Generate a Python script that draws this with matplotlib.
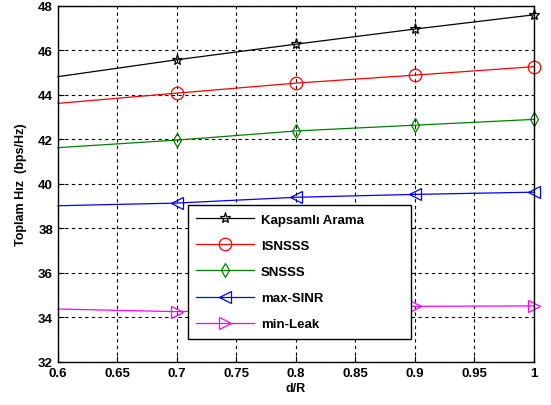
import numpy as np
import matplotlib.pyplot as plt

plt.rcParams['font.family'] = ['Liberation Sans', 'DejaVu Sans']

d_r = [0.6, 0.7, 0.8, 0.9, 1.0]
kapsamli = [44.82, 45.58, 46.28, 46.96, 47.6]
isnsss = [43.62, 44.08, 44.53, 44.89, 45.27]
snsss = [41.63, 41.97, 42.38, 42.64, 42.9]
max_sinr = [39.02, 39.14, 39.4, 39.53, 39.63]
min_leak = [34.38, 34.26, 34.4, 34.5, 34.52]

labels = ['Kapsamlı Arama', 'ISNSSS', 'SNSSS', 'max-SINR', 'min-Leak']
colors = ['black', 'red', (0, 0.5, 0), 'blue', 'magenta']
markers = ['*', 'o', 'd', '<', '>']
sizes = [8, 9, 7, 9, 9]

fig = plt.figure(figsize=(5.51, 4.06), dpi=100)
ax = fig.add_axes([0.105, 0.106, 0.864, 0.877])

series = [kapsamli, isnsss, snsss, max_sinr, min_leak]
for y, lab, c, m, s in zip(series, labels, colors, markers, sizes):
    ax.plot(d_r, y, color=c, marker=m, markersize=s, markerfacecolor='none',
            markeredgecolor=c, markeredgewidth=0.9, linewidth=0.9,
            markevery=[1, 2, 3, 4], label=lab, clip_on=False)

ax.set_xlim(0.6, 1.0)
ax.set_ylim(32, 48)
ax.set_xticks(np.arange(0.6, 1.001, 0.05))
ax.set_xticklabels(['0.6', '0.65', '0.7', '0.75', '0.8', '0.85', '0.9', '0.95', '1'])
ax.set_yticks(np.arange(32, 49, 2))
ax.grid(True, color='black', linestyle=(0, (3, 3)), linewidth=0.8)
ax.tick_params(direction='in', length=4, labelsize=9.5)
for t in ax.get_xticklabels() + ax.get_yticklabels():
    t.set_fontweight('bold')
for sp in ax.spines.values():
    sp.set_linewidth(1.0)

ax.set_xlabel('d/R', fontsize=9, fontweight='bold', labelpad=2)
ax.set_ylabel('Toplam Hız  (bps/Hz)', fontsize=9, fontweight='bold', labelpad=8)

leg = ax.legend(loc='lower left', bbox_to_anchor=(0.273, 0.065, 0.469, 0.379),
                mode='expand', fancybox=False, framealpha=1, edgecolor='black',
                handlelength=4.4, labelspacing=1.05, borderaxespad=0,
                borderpad=0.65, handletextpad=0.5,
                prop={'weight': 'bold', 'size': 9.5})
leg.get_frame().set_linewidth(1.0)

fig.savefig('out.png', dpi=100)
